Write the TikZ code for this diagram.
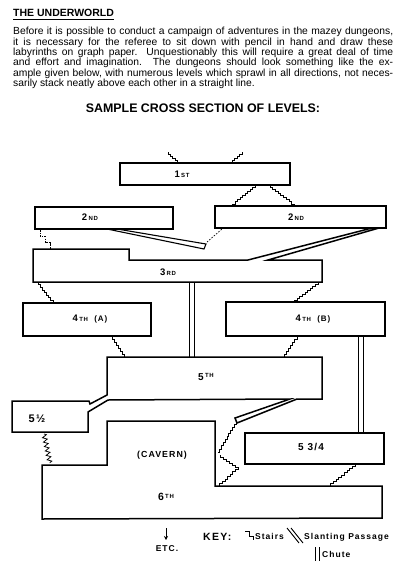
\documentclass[tikz,border=0pt]{standalone}
\usepackage{fontspec}
\setmainfont{Liberation Sans}
\newfontfamily\hand{Liberation Sans}[LetterSpace=12]
\usetikzlibrary{calc,arrows.meta,decorations.pathmorphing}
\newcommand\stairway[4][]{\draw[stairs,#1] (#2) foreach \k in {1,...,#4}{ |- ($(#2)!\k/#4!(#3)$) };}
\newcommand\ordn[2]{{\fontsize{9.5}{9}\selectfont #1}\,{\fontsize{6}{6}\selectfont #2}}
\begin{document}
\begin{tikzpicture}[x=1pt,y=-1pt,
  wall/.style={line width=1.5pt, line join=miter},
  lev/.style={draw, line width=1.5pt, inner sep=0pt, outer sep=0pt, anchor=north west},
  chute/.style={line width=1pt},
  passage/.style={line width=1.1pt, line join=miter},
  stairs/.style={line width=0.75pt, line join=miter},
  lbl/.style={font=\hand\bfseries\fontsize{8}{8}\selectfont, inner sep=0pt},
  keytxt/.style={font=\hand\bfseries\fontsize{8.5}{9}\selectfont, inner sep=0pt, anchor=base west}]
\useasboundingbox (0,0) rectangle (405,575);

% ---- text ----
\node[anchor=base west, font=\bfseries\fontsize{10.5}{12}\selectfont, inner sep=0pt] (title) at (13,17) {THE UNDERWORLD};
\draw[line width=0.9pt] ([yshift=-2.2pt]title.base west) -- ([yshift=-2.2pt]title.base east);
\node[anchor=north west, text width=380pt, align=justify, inner sep=0pt,
  font=\fontsize{10.3}{10.4}\selectfont] (para) at (13,27)
 {\hyphenpenalty=10000 Before it is possible to conduct a campaign of adventures in the mazey dungeons,\linebreak
  it is necessary for the referee to sit down with pencil in hand and draw these\linebreak
  labyrinths on graph paper. Unquestionably this will require a great deal of time\linebreak
  and effort and imagination. The dungeons should look something like the ex-\linebreak
  ample given below, with numerous levels which sprawl in all directions, not neces-\linebreak
  sarily stack neatly above each other in a straight line.};
\node[font=\bfseries\fontsize{12.4}{14}\selectfont, inner sep=0pt] (head) at (203,108) {SAMPLE CROSS SECTION OF LEVELS:};

% ---- rectangular levels ----
\node[lev, minimum width=170pt, minimum height=22pt] (L1) at (120,163) {};
\node[lev, minimum width=138pt, minimum height=22pt] (L2a) at (35,207) {};
\node[lev, minimum width=171pt, minimum height=22pt] (L2b) at (215,206) {};
\node[lev, minimum width=128pt, minimum height=33pt] (L4a) at (23,303) {};
\node[lev, minimum width=159pt, minimum height=34pt] (L4b) at (226,302) {};
\node[lev, minimum width=139pt, minimum height=31pt] (L534) at (245,433) {};

% ---- 3rd level with slanting passage from 2nd (b) ----
\draw[wall] (372,228) -- (248,260) -- (129,260) -- (129,249) -- (33,249) -- (33,282)
  -- (322,282) -- (322,260) -- (268,260) -- (379,228);

% ---- 5th level with 5 1/2 and passage ----
\draw[wall] (107,357) -- (322,357) -- (322,399) -- (297,399) -- (237,423) -- (235,418)
  -- (290,399) -- (108,400) -- (88,412) -- (88,432) -- (12,432) -- (12,401) -- (89,401)
  -- (90,404) -- (107,395) -- cycle;

% ---- 6th level with cavern ----
\draw[wall] (107,421) -- (215,421) -- (215,486) -- (382,486) -- (382,518) -- (42,519)
  -- (42,465) -- (107,465) -- cycle;

% ---- slanting passage from 2nd (a) ----
\draw[passage] (107,229) -- (204,249) -- (206,244) -- (117,229);
\draw[line width=0.7pt, dash pattern=on 1.5pt off 1.5pt] (207,242) -- (222,229);

% ---- chutes ----
\draw[chute] (189,282) -- (189,357) (194,282) -- (194,357);
\draw[chute] (358,336) -- (358,433) (363,336) -- (363,433);

% ---- stairs ----
\coordinate (a1) at (168,152); \coordinate (a2) at (180,163);
\coordinate (b1) at (242,152); \coordinate (b2) at (230,163);
\coordinate (c1) at (255,185); \coordinate (c2) at (230,206);
\coordinate (d1) at (270,185); \coordinate (d2) at (297,206);
\coordinate (e1) at (40,230);  \coordinate (e2) at (55,249);
\coordinate (f1) at (38,282);  \coordinate (f2) at (55,303);
\coordinate (g1) at (318,282); \coordinate (g2) at (292,302);
\coordinate (h1) at (112,336); \coordinate (h2) at (127,357);
\coordinate (i1) at (297,336); \coordinate (i2) at (282,357);
\coordinate (j1) at (236,421); \coordinate (j2) at (218,452);
\coordinate (k1) at (220,455); \coordinate (k2) at (238,467);
\coordinate (l1) at (238,467); \coordinate (l2) at (217,486);
\coordinate (m1) at (355,464); \coordinate (m2) at (328,486);
\coordinate (n1) at (44,434);  \coordinate (n2) at (50,463);
\stairway{a1}{a2}{5}
\stairway{b1}{b2}{5}
\stairway{c1}{c2}{10}
\stairway{d1}{d2}{10}
\stairway[dash pattern=on 1.5pt off 1.2pt]{e1}{e2}{3}
\stairway{f1}{f2}{8}
\stairway{g1}{g2}{10}
\stairway{h1}{h2}{7}
\stairway{i1}{i2}{7}
\stairway{j1}{j2}{10}
\stairway{k1}{k2}{6}
\stairway{l1}{l2}{8}
\stairway{m1}{m2}{10}
\draw[stairs, decorate, decoration={zigzag, amplitude=2.2pt, segment length=4.5pt}] (n1) -- (n2);

% ---- labels ----
\node[lbl] (t1) at (182,174) {\ordn{1}{ST}};
\node[lbl] (t2a) at (90,217) {\ordn{2}{ND}};
\node[lbl] (t2b) at (296,217) {\ordn{2}{ND}};
\node[lbl] (t3) at (168,272) {\ordn{3}{RD}};
\node[lbl] (t4a) at (90,319) {\ordn{4}{TH}\ \ (A)};
\node[lbl] (t4b) at (313,319) {\ordn{4}{TH}\ \ (B)};
\node[lbl] (t5) at (206,377) {{\fontsize{10}{9}\selectfont 5}\,\raisebox{3pt}{\fontsize{6}{6}\selectfont TH}};
\node[lbl] (t55) at (37,419) {\fontsize{11}{11}\selectfont 5½};
\node[lbl, font=\hand\bfseries\fontsize{8.8}{9}\selectfont] (tcav) at (162,455) {(CAVERN)};
\node[lbl] (t534) at (311,447) {\fontsize{10}{10}\selectfont 5 3/4};
\node[lbl] (t6) at (166,497) {{\fontsize{10.5}{9}\selectfont 6}\,\raisebox{2.5pt}{\fontsize{6}{6}\selectfont TH}};

% ---- etc and key ----
\coordinate (ar1) at (166,528); \coordinate (ar2) at (166,540);
\draw[line width=1pt, -{Stealth[length=4pt,width=4pt]}] (ar1) -- (ar2);
\node[lbl, font=\hand\bfseries\fontsize{8.5}{9}\selectfont] (etc) at (167,549) {ETC.};
\node[keytxt, font=\hand\bfseries\fontsize{10.5}{11}\selectfont] (key) at (203,540) {KEY:};
\coordinate (ks1) at (245,531); \coordinate (ks2) at (253,540);
\draw[stairs, line width=1pt] (ks1) -- (249,531) -- (249,536) -- (253,536) -- (ks2);
\node[keytxt] (kst) at (255,539.5) {Stairs};
\draw[line width=0.9pt] (287,528) -- (299,543) (291,528) -- (303,543);
\node[keytxt] (ksp) at (304,539.5) {Slanting Passage};
\draw[line width=0.9pt] (315,547) -- (315,561) (319,547) -- (319,561);
\node[keytxt] (kch) at (322,557) {Chute};
\end{tikzpicture}
\end{document}
